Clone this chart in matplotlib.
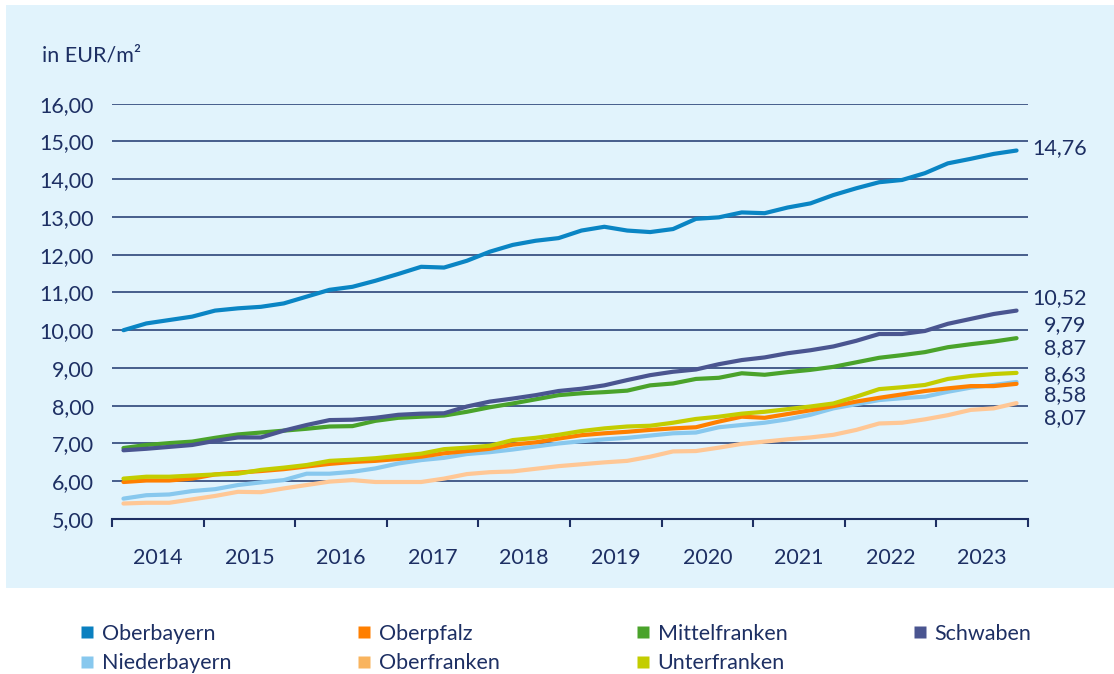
import matplotlib
matplotlib.use("Agg")
import matplotlib.pyplot as plt
from matplotlib.lines import Line2D
from matplotlib.patches import Rectangle

# quarterly average rents 2014 Q1 .. 2023 Q4 (EUR/m2)
years = ["2014", "2015", "2016", "2017", "2018", "2019", "2020", "2021", "2022", "2023"]

oberbayern = [10.00, 10.18, 10.27, 10.36, 10.52, 10.58, 10.62, 10.71, 10.89, 11.07,
              11.15, 11.31, 11.49, 11.68, 11.66, 11.84, 12.08, 12.26, 12.37, 12.44,
              12.64, 12.74, 12.64, 12.60, 12.68, 12.95, 12.99, 13.12, 13.10, 13.25,
              13.36, 13.58, 13.76, 13.92, 13.98, 14.16, 14.42, 14.54, 14.67, 14.76]
schwaben = [6.82, 6.86, 6.91, 6.96, 7.07, 7.16, 7.16, 7.34, 7.49, 7.62,
            7.63, 7.68, 7.76, 7.79, 7.80, 7.98, 8.11, 8.19, 8.28, 8.39,
            8.45, 8.54, 8.68, 8.81, 8.90, 8.96, 9.10, 9.21, 9.28, 9.39,
            9.47, 9.57, 9.72, 9.90, 9.90, 9.98, 10.17, 10.30, 10.43, 10.52]
mittelfranken = [6.88, 6.96, 7.01, 7.05, 7.15, 7.24, 7.29, 7.34, 7.39, 7.45,
                 7.46, 7.60, 7.68, 7.71, 7.74, 7.84, 7.96, 8.06, 8.17, 8.28,
                 8.33, 8.36, 8.40, 8.54, 8.59, 8.71, 8.74, 8.86, 8.82, 8.89,
                 8.95, 9.03, 9.15, 9.27, 9.34, 9.42, 9.55, 9.63, 9.70, 9.79]
unterfranken = [6.07, 6.12, 6.12, 6.15, 6.18, 6.20, 6.30, 6.36, 6.43, 6.54,
                6.57, 6.61, 6.67, 6.73, 6.85, 6.89, 6.94, 7.09, 7.15, 7.23,
                7.33, 7.40, 7.45, 7.47, 7.55, 7.65, 7.71, 7.79, 7.84, 7.91,
                7.98, 8.06, 8.24, 8.44, 8.49, 8.55, 8.71, 8.79, 8.84, 8.87]
oberpfalz = [5.98, 6.02, 6.02, 6.07, 6.18, 6.23, 6.27, 6.32, 6.39, 6.46,
             6.51, 6.54, 6.59, 6.65, 6.74, 6.80, 6.86, 6.97, 7.03, 7.13,
             7.22, 7.27, 7.31, 7.36, 7.40, 7.43, 7.58, 7.71, 7.68, 7.78,
             7.88, 7.99, 8.11, 8.21, 8.30, 8.39, 8.46, 8.52, 8.52, 8.58]
niederbayern = [5.54, 5.63, 5.65, 5.74, 5.79, 5.90, 5.97, 6.03, 6.20, 6.20,
                6.25, 6.34, 6.47, 6.56, 6.62, 6.72, 6.77, 6.84, 6.92, 7.00,
                7.06, 7.11, 7.15, 7.21, 7.27, 7.29, 7.43, 7.49, 7.55, 7.64,
                7.76, 7.93, 8.04, 8.15, 8.20, 8.24, 8.37, 8.48, 8.55, 8.63]
oberfranken = [5.41, 5.43, 5.43, 5.52, 5.61, 5.72, 5.71, 5.81, 5.90, 5.99,
               6.03, 5.98, 5.98, 5.98, 6.07, 6.19, 6.24, 6.26, 6.33, 6.40,
               6.45, 6.50, 6.54, 6.65, 6.79, 6.80, 6.89, 6.99, 7.05, 7.11,
               7.16, 7.23, 7.36, 7.53, 7.55, 7.64, 7.75, 7.89, 7.93, 8.07]

NAVY = "#1d2f63"
FS = 15.5
plt.rcParams["font.family"] = ["Lato", "DejaVu Sans"]

# drawing order (bottom -> top), line colour, legend colour, end-label pixel offset
series = [
    ("Oberfranken", oberfranken, "#ffc795", "#f9b45e", (70, -15)),
    ("Niederbayern", niederbayern, "#88c8ee", "#88c8ee", (70, 7)),
    ("Oberpfalz", oberpfalz, "#ff7f00", "#ff7f00", (70, -11)),
    ("Unterfranken", unterfranken, "#c3cd00", "#c3cd00", (70, 25)),
    ("Mittelfranken", mittelfranken, "#4aa32b", "#4aa32b", (70, 13)),
    ("Schwaben", schwaben, "#4a5590", "#4a5590", (70, 13)),
    ("Oberbayern", oberbayern, "#0a85c4", "#0a80c0", (70, 2)),
]

fig = plt.figure(figsize=(11.14, 6.74), dpi=100)
fig.patches.append(Rectangle((6 / 1114, 1 - 588 / 674), 1.0, 583 / 674,
                             transform=fig.transFigure, facecolor="#e1f3fc",
                             edgecolor="none", zorder=-5))

ax = fig.add_axes([112 / 1114, 1 - 519 / 674, 916 / 1114, 415.3 / 674])
ax.set_facecolor("none")
ax.set_zorder(2)

x = list(range(len(oberbayern)))
legend_colors = {}
for name, vals, color, lcolor, off in series:
    ax.plot(x, vals, color=color, lw=3.0, solid_capstyle="round",
            solid_joinstyle="round", zorder=3)
    legend_colors[name] = lcolor
    ax.annotate(f"{vals[-1]:.2f}".replace(".", ","), (x[-1], vals[-1]),
                xytext=off, textcoords="offset pixels", ha="right", va="center",
                fontsize=FS, color=NAVY, annotation_clip=False)

ax.set_xlim(-0.5, len(x) - 0.5)
ax.set_ylim(5, 16)
yt = list(range(5, 17))
ax.set_yticks(yt)
ax.set_yticklabels([f"{v},00" for v in yt], fontsize=FS, color=NAVY)
ax.tick_params(axis="y", length=0, pad=13)
ax.grid(axis="y", color="#2c4479", lw=1.2, zorder=1)

# year boundaries as ticks, labels in the middle of each year
ax.set_xticks([4 * i - 0.5 for i in range(len(years) + 1)])
ax.set_xticklabels([])
ax.set_xticks([4 * i + 1.5 for i in range(len(years))], minor=True)
ax.set_xticklabels(years, minor=True, fontsize=FS, color=NAVY)
ax.tick_params(axis="x", which="major", length=6, width=1.5, color=NAVY, direction="out")
ax.tick_params(axis="x", which="minor", length=0, pad=21)

for s in ["top", "right", "left"]:
    ax.spines[s].set_visible(False)
ax.spines["bottom"].set_color(NAVY)
ax.spines["bottom"].set_linewidth(1.5)

fig.text(42 / 1114, 1 - 55 / 674, "in EUR/m²", fontsize=FS, color=NAVY, va="center")

# legend: four columns at fixed positions
columns = [["Oberbayern", "Niederbayern"], ["Oberpfalz", "Oberfranken"],
           ["Mittelfranken", "Unterfranken"], ["Schwaben"]]
col_x = [78, 355, 634, 911]
for names, cx in zip(columns, col_x):
    handles = [Line2D([], [], ls="none", marker="s", markersize=9,
                      markerfacecolor=legend_colors[n], markeredgecolor="none")
               for n in names]
    leg = fig.legend(handles, names, loc="upper left",
                     bbox_to_anchor=(cx / 1114, 1 - 624 / 674), frameon=False,
                     fontsize=FS, borderpad=0, borderaxespad=0, handlelength=0.8,
                     handletextpad=0.3, labelspacing=0.42)
    for t in leg.get_texts():
        t.set_color(NAVY)

fig.savefig("out.png", dpi=100)
